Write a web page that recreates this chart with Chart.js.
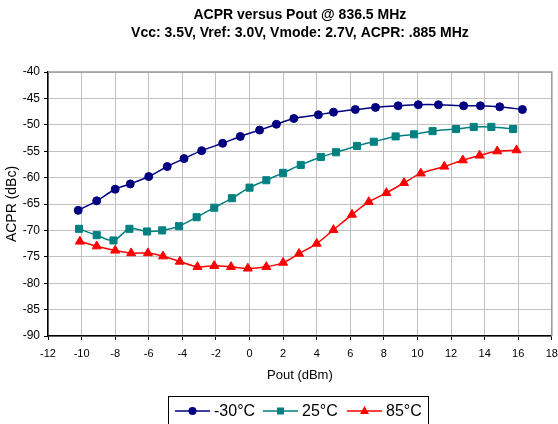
<!DOCTYPE html>
<html>
<head>
<meta charset="utf-8">
<script src="https://cdn.jsdelivr.net/npm/chart.js@4"></script>
<style>
  html, body { margin: 0; padding: 0; background: #fff; }
  #wrap { width: 558px; height: 424px; position: relative; }
</style>
</head>
<body>
<div id="wrap"><canvas id="chartAcpr"></canvas></div>
<script>
// data
const poutM30 = [-10.2, -9.1, -8.0, -7.1, -6.0, -4.9, -3.9, -2.85, -1.6, -0.55, 0.6, 1.6, 2.64, 4.1, 5.0, 6.3, 7.5, 8.85, 10.05, 11.25, 12.75, 13.75, 14.9, 16.25];
const acprM30 = [-66.2, -64.4, -62.2, -61.2, -59.8, -57.9, -56.4, -54.9, -53.5, -52.2, -51.0, -49.9, -48.8, -48.1, -47.6, -47.1, -46.7, -46.4, -46.2, -46.2, -46.4, -46.4, -46.6, -47.1];

const pout25 = [-10.15, -9.1, -8.1, -7.15, -6.1, -5.2, -4.2, -3.15, -2.1, -1.05, 0.0, 1.0, 2.0, 3.05, 4.25, 5.15, 6.4, 7.4, 8.7, 9.8, 10.9, 12.3, 13.35, 14.4, 15.7];
const acpr25 = [-69.7, -70.9, -71.9, -69.7, -70.2, -70.0, -69.2, -67.5, -65.7, -63.9, -61.9, -60.5, -59.1, -57.6, -56.1, -55.2, -54.0, -53.2, -52.2, -51.8, -51.2, -50.8, -50.4, -50.4, -50.8];

const pout85 = [-10.1, -9.1, -8.0, -7.05, -6.05, -5.15, -4.15, -3.1, -2.1, -1.1, -0.1, 1.0, 2.0, 2.95, 4.0, 5.0, 6.1, 7.1, 8.15, 9.2, 10.2, 11.6, 12.7, 13.7, 14.75, 15.9];
const acpr85 = [-72.1, -73.0, -73.8, -74.3, -74.3, -74.9, -75.9, -76.9, -76.7, -76.9, -77.2, -76.9, -76.1, -74.4, -72.5, -69.9, -67.0, -64.6, -62.9, -61.0, -59.2, -57.9, -56.7, -55.8, -55.0, -54.8];

const seriesLabels = ["-30°C", "25°C", "85°C"];
const titleLines = ["ACPR versus Pout @ 836.5 MHz", "Vcc: 3.5V, Vref: 3.0V, Vmode: 2.7V, ACPR: .885 MHz"];

const FONT = "'Liberation Sans', Arial, sans-serif";

function toPoints(xs, ys) {
  return xs.map((x, i) => ({ x: x, y: ys[i] }));
}

// ðŸ”¹ border atas/kanan abu-abu seperti Excel
const plotBorder = {
  id: "plotBorder",
  beforeDatasetsDraw(chart) {
    const { ctx, chartArea: a } = chart;
    ctx.save();
    ctx.strokeStyle = "#a09898";
    ctx.lineWidth = 1.5;
    ctx.beginPath();
    ctx.moveTo(a.left, a.top);
    ctx.lineTo(a.right, a.top);
    ctx.lineTo(a.right, a.bottom);
    ctx.stroke();
    ctx.restore();
  }
};

// ðŸ”¹ legend kotak di bawah
const boxLegend = {
  id: "boxLegend",
  afterDraw(chart) {
    const { ctx } = chart;
    const items = chart.data.datasets;
    const starts = [175, 263, 347];
    const y = 411;
    ctx.save();
    ctx.strokeStyle = "#000";
    ctx.lineWidth = 1;
    ctx.strokeRect(168.5, 396.5, 260, 40);
    ctx.font = "16px " + FONT;
    ctx.textBaseline = "middle";
    items.forEach((ds, i) => {
      const x0 = starts[i];
      const cx = x0 + 17.5;
      ctx.strokeStyle = ds.borderColor;
      ctx.lineWidth = 1.5;
      ctx.beginPath();
      ctx.moveTo(x0, y);
      ctx.lineTo(x0 + 35, y);
      ctx.stroke();
      ctx.fillStyle = ds.backgroundColor;
      ctx.beginPath();
      if (ds.pointStyle === "circle") {
        ctx.arc(cx, y, 4, 0, Math.PI * 2);
      } else if (ds.pointStyle === "rect") {
        ctx.rect(cx - 3.5, y - 3.5, 7, 7);
      } else {
        ctx.moveTo(cx, y - 5);
        ctx.lineTo(cx + 4.5, y + 3);
        ctx.lineTo(cx - 4.5, y + 3);
        ctx.closePath();
      }
      ctx.fill();
      ctx.fillStyle = "#000";
      ctx.fillText(seriesLabels[i], x0 + 39, y + 1);
    });
    ctx.restore();
  }
};

const ctx = document.getElementById("chartAcpr").getContext("2d");

const lineSet = (label, data, color, style, radius) => ({
  label: label,
  data: data,
  borderColor: color,
  backgroundColor: color,
  borderWidth: 1.5,
  pointStyle: style,
  pointRadius: radius,
  pointHoverRadius: radius,
  pointBorderWidth: 1,
  tension: 0.3,
  fill: false
});

new Chart(ctx, {
  type: "line",
  data: {
    datasets: [
      lineSet(seriesLabels[0], toPoints(poutM30, acprM30), "#000080", "circle", 4),
      lineSet(seriesLabels[1], toPoints(pout25, acpr25), "#008080", "rect", 5),
      lineSet(seriesLabels[2], toPoints(pout85, acpr85), "#ff0000", "triangle", 5.2)
    ]
  },
  options: {
    responsive: true,
    maintainAspectRatio: false,
    animation: false,
    layout: { padding: { left: 0, right: 0, top: 0, bottom: 36 } },
    plugins: {
      legend: { display: false },
      tooltip: { enabled: false },
      title: {
        display: true,
        fullSize: false,
        text: titleLines,
        color: "#000",
        font: { family: FONT, size: 14, weight: "bold", lineHeight: 1.286 },
        padding: { top: 6, bottom: 30 }
      }
    },
    scales: {
      x: {
        type: "linear",
        min: -12,
        max: 18,
        afterFit: s => { s.height = 52; s.paddingRight = 5; s.paddingLeft = 0; },
        ticks: { stepSize: 2, color: "#000", font: { family: FONT, size: 11 }, padding: 7, maxRotation: 0 },
        grid: { color: "#c0c0c0", lineWidth: 1, tickLength: 4, tickColor: "#000" },
        border: { color: "#000", width: 1.5 },
        title: {
          display: true,
          text: "Pout (dBm)",
          color: "#000",
          font: { family: FONT, size: 13 },
          padding: { top: 0, bottom: 5 }
        }
      },
      y: {
        min: -90,
        max: -40,
        afterFit: s => { s.width = 48; },
        ticks: { stepSize: 5, color: "#000", font: { family: FONT, size: 12 }, padding: 4 },
        grid: { color: "#c0c0c0", lineWidth: 1, tickLength: 4, tickColor: "#000" },
        border: { color: "#000", width: 1.5 },
        title: {
          display: true,
          text: "ACPR (dBc)",
          color: "#000",
          font: { family: FONT, size: 14 },
          padding: { top: 4, bottom: 0 }
        }
      }
    }
  },
  plugins: [plotBorder, boxLegend]
});
</script>
</body>
</html>
